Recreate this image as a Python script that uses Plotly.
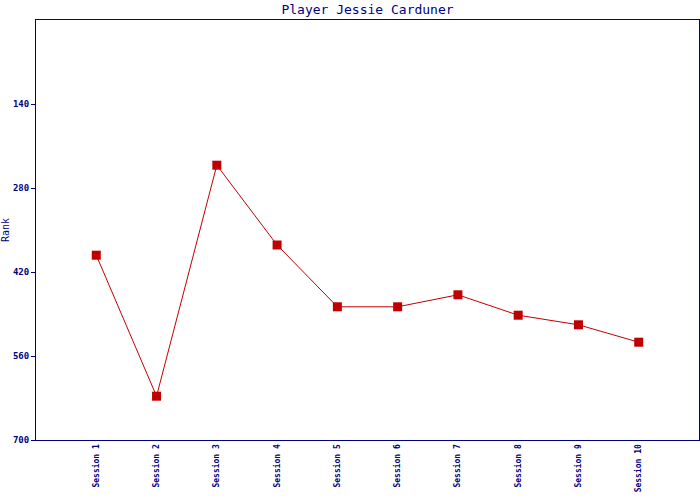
import plotly.graph_objects as go

sessions = ["Session 1", "Session 2", "Session 3", "Session 4", "Session 5",
            "Session 6", "Session 7", "Session 8", "Session 9", "Session 10"]
ranks = [392, 627, 242, 375, 478, 478, 458, 492, 508, 537]
y_ticks = [140, 280, 420, 560, 700]

navy = "#000080"
red = "#C00000"
font = "DejaVu Sans Mono"

fig = go.Figure(go.Scatter(
    x=list(range(len(sessions))), y=ranks, mode="lines+markers",
    line=dict(color=red, width=1),
    marker=dict(symbol="square", size=9, color=red),
))

fig.update_layout(
    width=700, height=500,
    margin=dict(l=36, r=1, t=20, b=60, autoexpand=False),
    paper_bgcolor="white", plot_bgcolor="white",
    showlegend=False,
    title=dict(text="Player Jessie Carduner", x=0.5, xref="paper", xanchor="center",
               y=1 - 9 / 500, yanchor="middle",
               font=dict(family=font, size=13, color=navy)),
)
fig.update_xaxes(
    range=[-1, 10], tickmode="array", tickvals=list(range(len(sessions))),
    ticktext=sessions, tickangle=-90, automargin=False,
    tickfont=dict(family=font, size=8, color=navy, weight="bold"),
    showgrid=False, zeroline=False, showline=True, linecolor=navy, linewidth=1,
    mirror=True, ticks="", ticklen=0,
)
fig.update_yaxes(
    range=[700, 0], tickmode="array", tickvals=y_ticks, automargin=False,
    tickfont=dict(family=font, size=9, color=navy, weight="bold"),
    title=dict(text="Rank", font=dict(family=font, size=10, color=navy), standoff=4),
    showgrid=False, zeroline=False, showline=True, linecolor=navy, linewidth=1,
    mirror=True, ticks="outside", ticklen=4, tickcolor=navy,
)

fig.write_html("out.html", config={"displayModeBar": False},
               post_script="document.body.style.margin='0px';")
